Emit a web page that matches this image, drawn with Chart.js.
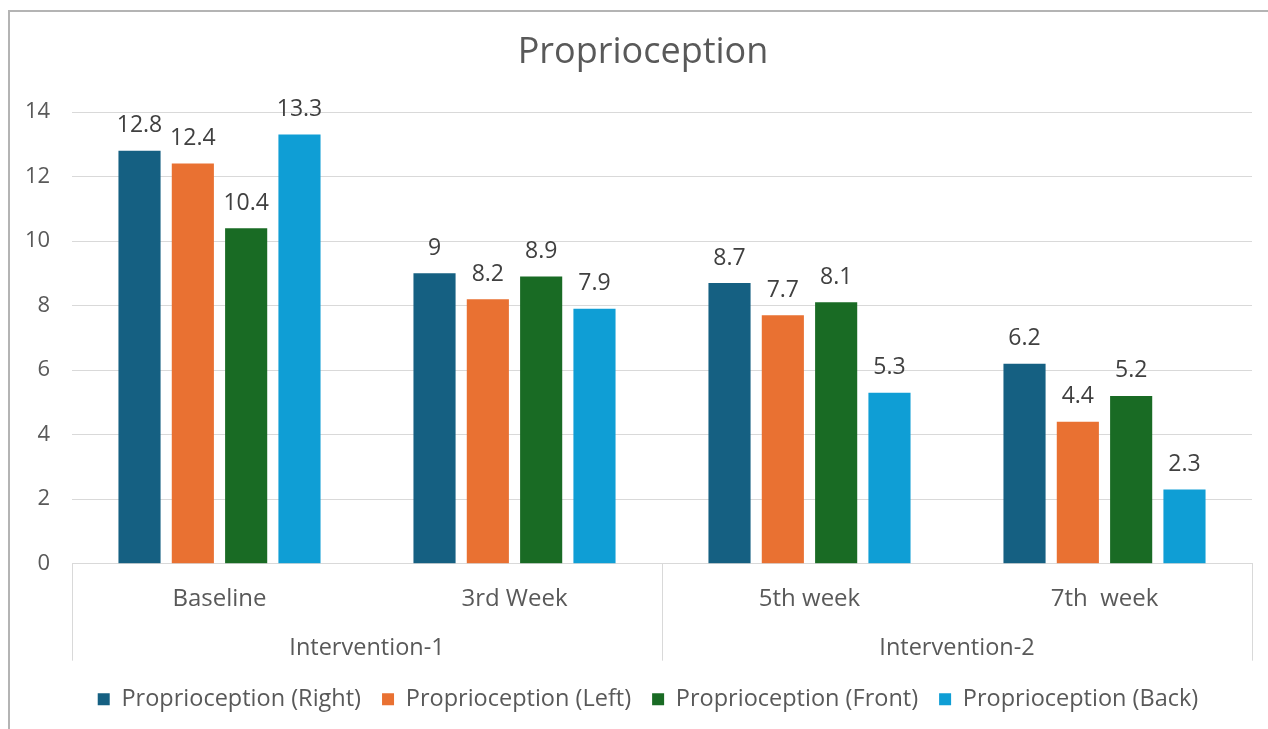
<!DOCTYPE html>
<html>
<head>
<meta charset="utf-8">
<script src="https://cdn.jsdelivr.net/npm/chart.js@4"></script>
<style>
  html, body { margin: 0; padding: 0; background: #ffffff; }
  body { width: 1268px; height: 729px; overflow: hidden; position: relative; }
  #frame { position: absolute; left: 8px; top: 10px; width: 1300px; height: 800px; border: 2px solid #b4b4b4; box-sizing: border-box; }
  #wrap { position: absolute; left: 0; top: 0; width: 1268px; height: 729px; }
</style>
</head>
<body>
<div id="frame"></div>
<div id="wrap"><canvas id="c"></canvas></div>
<script>
const chartTitle = 'Proprioception';
const categories = ['Baseline', '3rd Week', '5th week', '7th  week'];
const groups = ['Intervention-1', 'Intervention-2'];
const groupSpans = [2, 2];
const seriesNames = ['Proprioception (Right)', 'Proprioception (Left)', 'Proprioception (Front)', 'Proprioception (Back)'];
const rightValues = [12.8, 9, 8.7, 6.2];
const leftValues = [12.4, 8.2, 7.7, 4.4];
const frontValues = [10.4, 8.9, 8.1, 5.2];
const backValues = [13.3, 7.9, 5.3, 2.3];
const seriesColors = ['#156082', '#E97132', '#196B24', '#0F9ED5'];
const yTicks = [0, 2, 4, 6, 8, 10, 12, 14];

const FONT = "'Open Sans', 'Liberation Sans', sans-serif";
const TEXT = '#595959';
const GRID = '#d9d9d9';
const PAD_LEFT = 44;
const AXIS_LEFT = 72;

const titlePlugin = {
  id: 'titlePlugin',
  afterDraw(chart) {
    const ctx = chart.ctx;
    ctx.save();
    ctx.font = '36px ' + FONT;
    ctx.fillStyle = TEXT;
    ctx.textAlign = 'center';
    ctx.textBaseline = 'middle';
    ctx.fillText(chartTitle, 643, 53);
    ctx.restore();
  }
};

const valueLabels = {
  id: 'valueLabels',
  afterDatasetsDraw(chart) {
    const ctx = chart.ctx;
    ctx.save();
    ctx.font = '23px ' + FONT;
    ctx.fillStyle = '#404040';
    ctx.textAlign = 'center';
    ctx.textBaseline = 'middle';
    chart.data.datasets.forEach((ds, i) => {
      const meta = chart.getDatasetMeta(i);
      meta.data.forEach((el, j) => {
        ctx.fillText(String(ds.data[j]), el.x, el.y - 25);
      });
    });
    ctx.restore();
  }
};

const groupAxis = {
  id: 'groupAxis',
  afterDraw(chart) {
    const ctx = chart.ctx;
    const x = chart.scales.x;
    const area = chart.chartArea;
    const step = (x.right - x.left) / categories.length;
    ctx.save();
    ctx.strokeStyle = GRID;
    ctx.lineWidth = 1;
    let idx = 0;
    const bounds = [x.left];
    groupSpans.forEach(s => { idx += s; bounds.push(x.left + idx * step); });
    bounds.forEach(bx => {
      const px = Math.round(bx) + 0.5;
      ctx.beginPath();
      ctx.moveTo(px, area.bottom);
      ctx.lineTo(px, area.bottom + 97);
      ctx.stroke();
    });
    ctx.font = '23.5px ' + FONT;
    ctx.fillStyle = TEXT;
    ctx.textAlign = 'center';
    ctx.textBaseline = 'middle';
    groups.forEach((g, i) => {
      const cx = (bounds[i] + bounds[i + 1]) / 2;
      ctx.fillText(g, cx, area.bottom + 85);
    });
    ctx.restore();
  }
};

const datasets = [rightValues, leftValues, frontValues, backValues].map((vals, i) => ({
  label: seriesNames[i],
  data: vals,
  backgroundColor: seriesColors[i],
  borderWidth: 0,
  categoryPercentage: 0.723,
  barPercentage: 0.79
}));

new Chart(document.getElementById('c'), {
  type: 'bar',
  data: { labels: categories, datasets },
  plugins: [titlePlugin, valueLabels, groupAxis],
  options: {
    responsive: true,
    maintainAspectRatio: false,
    animation: false,
    layout: { padding: { left: PAD_LEFT, right: 16, top: 112, bottom: 8 } },
    plugins: {
      title: { display: false },
      legend: {
        position: 'bottom',
        labels: {
          color: TEXT,
          font: { family: FONT, size: 23.5 },
          boxWidth: 12,
          boxHeight: 12,
          padding: 21
        }
      },
      tooltip: { enabled: false }
    },
    scales: {
      x: {
        grid: { display: false, drawTicks: false },
        border: { display: true, color: GRID, width: 1 },
        ticks: { color: TEXT, font: { family: FONT, size: 24 }, padding: 21 },
        afterFit(scale) { scale.height += 32; }
      },
      y: {
        min: 0,
        max: 14,
        afterBuildTicks(scale) { scale.ticks = yTicks.map(v => ({ value: v })); },
        afterFit(scale) { scale.width = AXIS_LEFT - PAD_LEFT; },
        grid: { color: GRID, drawTicks: false },
        border: { display: false },
        ticks: {
          color: TEXT,
          font: { family: FONT, size: 22 },
          mirror: true,
          crossAlign: 'far',
          padding: -47
        }
      }
    }
  }
});
</script>
</body>
</html>
